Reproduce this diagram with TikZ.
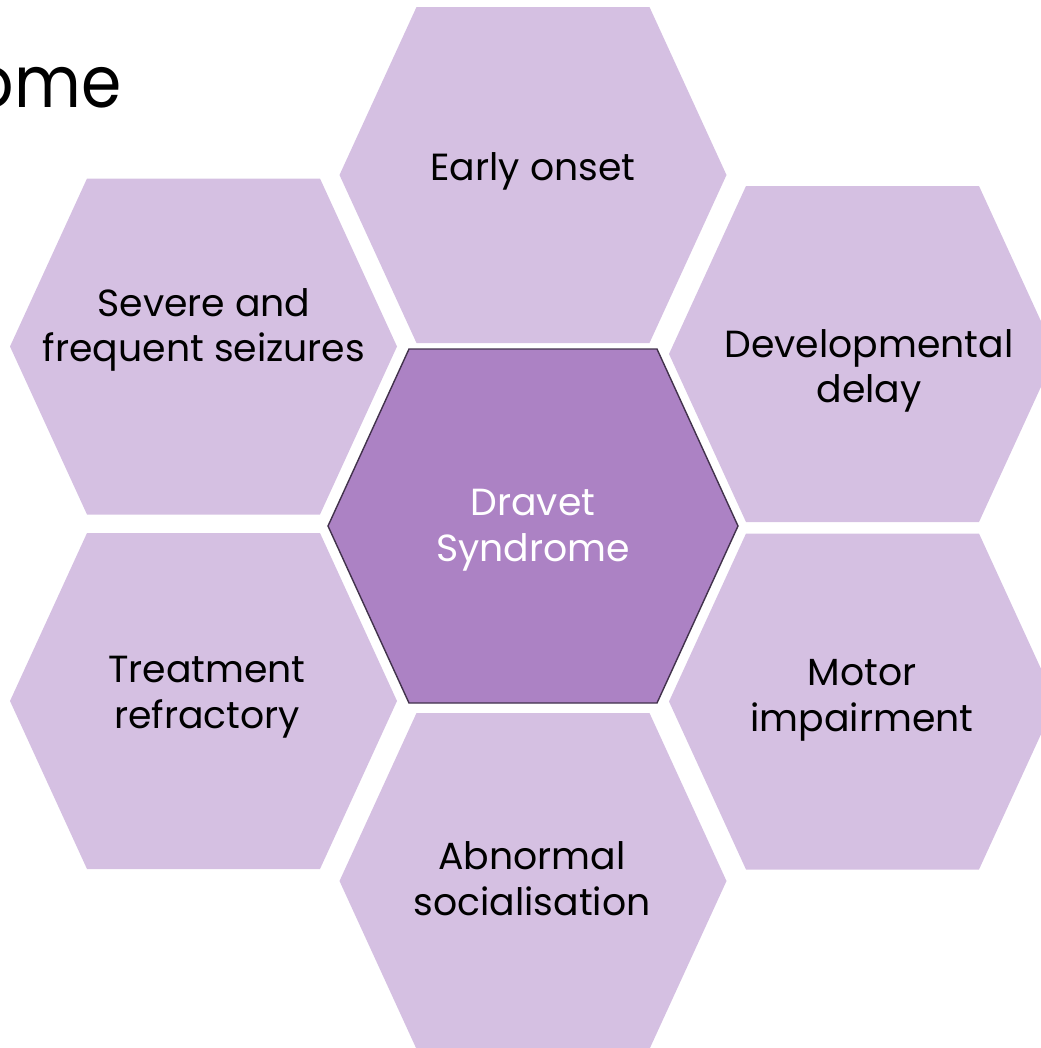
\documentclass[tikz,border=0pt]{standalone}
\usepackage{fontspec}
\setmainfont{Poppins}
\definecolor{hexlight}{RGB}{213,192,226}
\definecolor{hexdark}{RGB}{172,130,196}
\definecolor{hexedge}{RGB}{66,50,76}

\begin{document}
\begin{tikzpicture}[x=0.02cm, y=-0.02cm,
    outerhex/.style={fill=hexlight},
    innerhex/.style={fill=hexdark, draw=hexedge, line width=0.8pt},
    hexlabel/.style={align=center, font=\fontsize{21.5}{26}\selectfont},
    centerlabel/.style={align=center, text=white, font=\fontsize{21.5}{26}\selectfont}]
\useasboundingbox (0,0) rectangle (1041,1048);
% title, cut off at the left edge
\node[anchor=base east, xscale=0.9, transform shape, font=\fontsize{41}{49}\selectfont] (title) at (127,107) {ome};
% outer ring
\fill[outerhex] (533.5,175) ++(-194,0) -- ++(77,-168) -- ++(233,0) -- ++(77,168) -- ++(-77,168) -- ++(-233,0) -- cycle;
\fill[outerhex] (204,346.5) ++(-194,0) -- ++(77,-168) -- ++(233,0) -- ++(77,168) -- ++(-77,168) -- ++(-233,0) -- cycle;
\fill[outerhex] (863,354) ++(-194,0) -- ++(77,-168) -- ++(233,0) -- ++(77,168) -- ++(-77,168) -- ++(-233,0) -- cycle;
\fill[outerhex] (204,701) ++(-194,0) -- ++(77,-168) -- ++(233,0) -- ++(77,168) -- ++(-77,168) -- ++(-233,0) -- cycle;
\fill[outerhex] (863,701.5) ++(-194,0) -- ++(77,-168) -- ++(233,0) -- ++(77,168) -- ++(-77,168) -- ++(-233,0) -- cycle;
\fill[outerhex] (533.5,881) ++(-194,0) -- ++(77,-168) -- ++(233,0) -- ++(77,168) -- ++(-77,168) -- ++(-233,0) -- cycle;
% centre
\filldraw[innerhex] (533,526) ++(-205,0) -- ++(81,-177) -- ++(248,0) -- ++(81,177) -- ++(-81,177) -- ++(-248,0) -- cycle;
% labels
\node[hexlabel] (onset) at (533,171) {Early onset};
\node[hexlabel] (seizures) at (204,330) {Severe and\\frequent seizures};
\node[hexlabel] (delay) at (869,371) {Developmental\\delay};
\node[centerlabel] (dravet) at (533,530) {Dravet\\Syndrome};
\node[hexlabel] (refractory) at (207,697) {Treatment\\refractory};
\node[hexlabel] (motor) at (862,700) {Motor\\impairment};
\node[hexlabel] (social) at (532,879) {Abnormal\\socialisation};
\end{tikzpicture}
\end{document}
